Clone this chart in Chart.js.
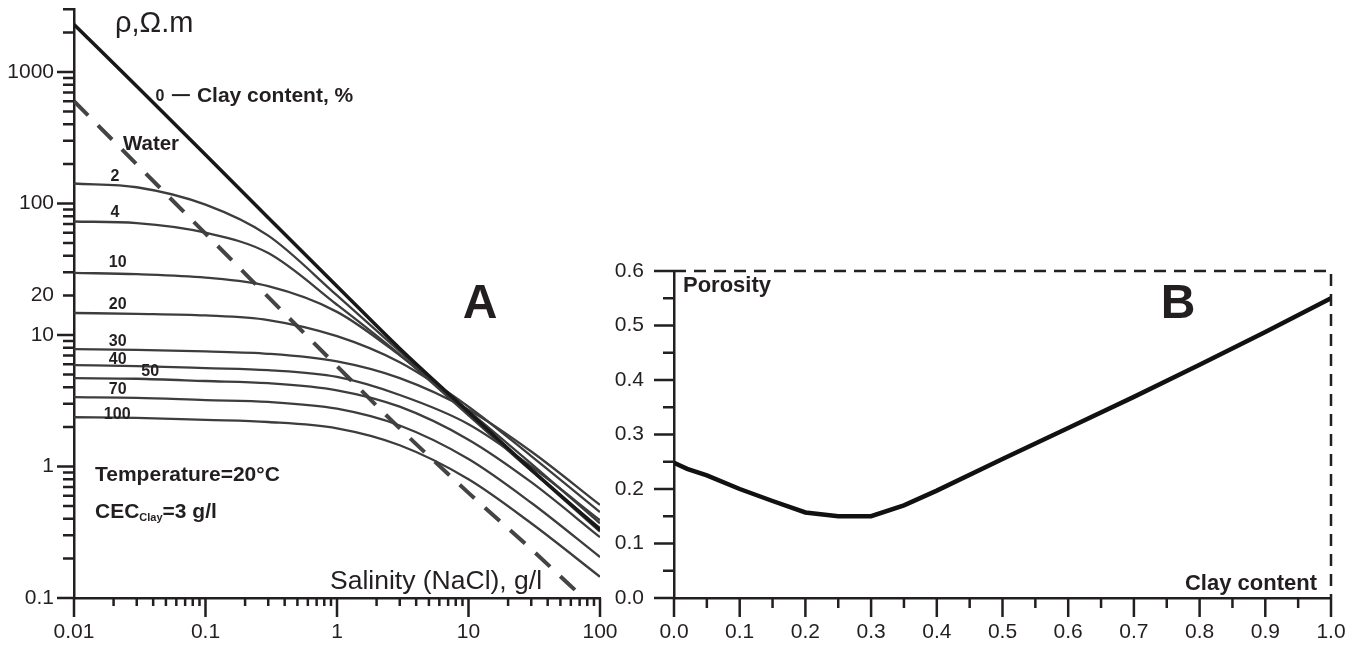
<!DOCTYPE html>
<html>
<head>
<meta charset="utf-8">
<title>Resistivity vs salinity and porosity vs clay content</title>
<script src="https://cdn.jsdelivr.net/npm/chart.js@4.4.0/dist/chart.umd.min.js"></script>
<style>
  html, body { margin: 0; padding: 0; background: #fff; overflow: hidden; }
  #wrap { position: relative; width: 1360px; height: 645px; }
  canvas { position: absolute; top: 0; }
  #chartA { left: 0; }
  #chartB { left: 560px; }
</style>
</head>
<body>
<div id="wrap">
  <canvas id="chartA" width="680" height="645"></canvas>
  <canvas id="chartB" width="800" height="645"></canvas>
</div>
<script>
// ---- chart A : resistivity (ohm.m) vs NaCl salinity (g/l), one curve per clay content ----
const salinity   = [0.01, 0.03, 0.1, 0.3, 1, 3, 10, 30, 100];
const rhoClay0   = [2300, 780, 235, 78, 23.5, 7.9, 2.6, 0.95, 0.33];
const rhoClay2   = [142, 133, 98, 57, 20, 7.5, 2.5, 0.93, 0.32];
const rhoClay4   = [73, 71, 60, 42, 17, 7.1, 2.45, 0.93, 0.34];
const rhoClay10  = [29.7, 29, 27.3, 23.5, 15, 7.0, 2.65, 1.05, 0.37];
const rhoClay20  = [14.7, 14.5, 14.1, 13, 9.8, 6.2, 2.85, 1.2, 0.45];
const rhoClay30  = [7.8, 7.7, 7.5, 7.2, 6.3, 4.7, 2.7, 1.3, 0.51];
const rhoClay40  = [5.9, 5.8, 5.6, 5.4, 4.8, 3.5, 2.1, 1.0, 0.39];
const rhoClay50  = [4.7, 4.65, 4.47, 4.3, 3.8, 2.85, 1.6, 0.76, 0.29];
const rhoClay70  = [3.37, 3.33, 3.2, 3.1, 2.75, 2.05, 1.14, 0.53, 0.205];
const rhoClay100 = [2.37, 2.34, 2.26, 2.18, 1.95, 1.45, 0.8, 0.37, 0.145];

const waterSalinity = [0.01, 0.1, 1, 3, 10, 30, 75];
const rhoWater      = [600, 59, 5.8, 1.95, 0.63, 0.235, 0.1];

const salinityTicks      = [0.01, 0.1, 1, 10, 100];
const salinityTickLabels = ['0.01', '0.1', '1', '10', '100'];
const rhoTicks           = [0.1, 1, 10, 20, 100, 1000];
const rhoTickLabels      = ['0.1', '1', '10', '20', '100', '1000'];

// curve labels (clay content %) and where they sit, in data units
const clayLabels   = ['2', '4', '10', '20', '30', '40', '50', '70', '100'];
const clayLabelSal = [0.0205, 0.0205, 0.0215, 0.0215, 0.0215, 0.0215, 0.038, 0.0215, 0.0213];
const clayLabelRho = [159, 85, 35.3, 16.9, 8.85, 6.46, 5.24, 3.82, 2.5];

// ---- chart B : porosity vs clay content ----
const clayContent = [0, 0.02, 0.05, 0.1, 0.15, 0.2, 0.25, 0.3, 0.35, 0.4, 0.5, 0.6, 0.7, 0.8, 0.9, 1.0];
const porosity    = [0.248, 0.237, 0.225, 0.2, 0.178, 0.157, 0.15, 0.15, 0.17, 0.197, 0.255, 0.312, 0.369, 0.428, 0.488, 0.55];

const clayTicks      = [0, 0.1, 0.2, 0.3, 0.4, 0.5, 0.6, 0.7, 0.8, 0.9, 1.0];
const clayTickLabels = ['0.0', '0.1', '0.2', '0.3', '0.4', '0.5', '0.6', '0.7', '0.8', '0.9', '1.0'];
const porTicks       = [0, 0.1, 0.2, 0.3, 0.4, 0.5, 0.6];
const porTickLabels  = ['0.0', '0.1', '0.2', '0.3', '0.4', '0.5', '0.6'];

// ---- styles ----
const ink = '#231f20';
const curveColor = '#3d3d3d';
const fam = '"Liberation Sans", Arial, Helvetica, sans-serif';
const tickFont = { family: fam, size: 21 };

const pts = (xs, ys) => xs.map((x, i) => ({ x, y: ys[i] }));

function fixedAxis(size) {
  return function (s) {
    if (s.isHorizontal()) s.height = size; else s.width = size;
    s.paddingTop = 0; s.paddingBottom = 0; s.paddingLeft = 0; s.paddingRight = 0;
  };
}

function drawTicks(ctx, scale, values, len) {
  ctx.save();
  ctx.strokeStyle = ink;
  ctx.lineWidth = 2.5;
  ctx.beginPath();
  values.forEach(v => {
    const p = scale.getPixelForValue(v);
    if (scale.isHorizontal()) { ctx.moveTo(p, scale.top); ctx.lineTo(p, scale.top + len); }
    else { ctx.moveTo(scale.right, p); ctx.lineTo(scale.right - len, p); }
  });
  ctx.stroke();
  ctx.restore();
}

function text(ctx, s, x, y, font, align) {
  ctx.font = font;
  ctx.textAlign = align || 'left';
  ctx.textBaseline = 'middle';
  ctx.fillStyle = ink;
  ctx.fillText(s, x, y);
}

function logMinors(decades, max) {
  const out = [];
  decades.forEach(d => { for (let m = 2; m <= 9; m++) if (m * d <= max * 1.0001) out.push(m * d); });
  return out;
}

const curve = (label, ys, width, color) => ({
  label, data: pts(salinity, ys),
  borderColor: color || curveColor, borderWidth: width || 2.3,
  pointRadius: 0, fill: false, cubicInterpolationMode: 'monotone'
});

// ---- chart A ----
const decorA = {
  id: 'decorA',
  afterDraw(chart) {
    const { ctx, chartArea: a, scales: { x, y } } = chart;
    drawTicks(ctx, x, salinityTicks, 19);
    drawTicks(ctx, x, logMinors([0.01, 0.1, 1, 10], 100), 8);
    drawTicks(ctx, y, [0.1, 1, 10, 100, 1000], 17);
    drawTicks(ctx, y, logMinors([0.1, 1, 10, 100, 1000], 3000), 11);

    ctx.save();
    text(ctx, 'ρ,Ω.m', a.left + 41, a.top + 15, `29px ${fam}`);
    text(ctx, 'Salinity (NaCl), g/l', a.left + 256, a.bottom - 16, `26.5px ${fam}`);
    text(ctx, 'A', a.left + 406, 305, `bold 48px ${fam}`, 'center');

    // legend for the solid curves
    const lx = x.getPixelForValue(0.045), ly = y.getPixelForValue(656);
    text(ctx, '0', lx, ly, `bold 16px ${fam}`, 'center');
    ctx.strokeStyle = ink; ctx.lineWidth = 2;
    ctx.beginPath(); ctx.moveTo(lx + 12, ly - 1); ctx.lineTo(lx + 30, ly - 1); ctx.stroke();
    text(ctx, 'Clay content, %', lx + 37, ly, `bold 21px ${fam}`);

    text(ctx, 'Water', x.getPixelForValue(0.0385), y.getPixelForValue(283), `bold 20.5px ${fam}`, 'center');

    clayLabels.forEach((s, i) => {
      text(ctx, s, x.getPixelForValue(clayLabelSal[i]), y.getPixelForValue(clayLabelRho[i]), `bold 16px ${fam}`, 'center');
    });

    text(ctx, 'Temperature=20°C', a.left + 21, 475, `bold 21px ${fam}`);
    text(ctx, 'CEC', a.left + 21, 512, `bold 21px ${fam}`);
    ctx.font = `bold 21px ${fam}`;
    const w1 = ctx.measureText('CEC').width;
    text(ctx, 'Clay', a.left + 21 + w1, 518, `bold 11px ${fam}`);
    ctx.font = `bold 11px ${fam}`;
    const w2 = ctx.measureText('Clay').width;
    text(ctx, '=3 g/l', a.left + 21 + w1 + w2, 512, `bold 21px ${fam}`);
    ctx.restore();
  }
};

new Chart(document.getElementById('chartA'), {
  type: 'line',
  data: {
    datasets: [
      curve('0 %', rhoClay0, 3.5, '#1a1718'),
      curve('2 %', rhoClay2),
      curve('4 %', rhoClay4),
      curve('10 %', rhoClay10),
      curve('20 %', rhoClay20),
      curve('30 %', rhoClay30),
      curve('40 %', rhoClay40),
      curve('50 %', rhoClay50),
      curve('70 %', rhoClay70),
      curve('100 %', rhoClay100),
      {
        label: 'Water', data: pts(waterSalinity, rhoWater),
        borderColor: '#444', borderWidth: 4, borderDash: [20, 14],
        pointRadius: 0, fill: false, cubicInterpolationMode: 'monotone'
      }
    ]
  },
  options: {
    responsive: false, animation: false, devicePixelRatio: 1,
    layout: { padding: { left: 0, right: 80, top: 9.3, bottom: 0 } },
    plugins: { legend: { display: false }, tooltip: { enabled: false } },
    scales: {
      x: {
        type: 'logarithmic', min: 0.01, max: 100,
        grid: { display: false },
        border: { display: true, color: ink, width: 2.5 },
        ticks: { color: ink, font: tickFont, padding: 14, autoSkip: false, maxRotation: 0,
                 callback: (v, i) => salinityTickLabels[i] },
        afterBuildTicks: s => { s.ticks = salinityTicks.map(v => ({ value: v })); },
        afterFit: fixedAxis(47)
      },
      y: {
        type: 'logarithmic', min: 0.1, max: 3000,
        grid: { display: false },
        border: { display: true, color: ink, width: 2.5 },
        ticks: { color: ink, font: tickFont, padding: 12, autoSkip: false,
                 callback: (v, i) => rhoTickLabels[i] },
        afterBuildTicks: s => { s.ticks = rhoTicks.map(v => ({ value: v })); },
        afterFit: fixedAxis(74)
      }
    }
  },
  plugins: [decorA]
});

// ---- chart B ----
const decorB = {
  id: 'decorB',
  afterDraw(chart) {
    const { ctx, chartArea: a, scales: { x, y } } = chart;
    drawTicks(ctx, x, clayTicks, 19);
    drawTicks(ctx, x, clayTicks.slice(0, -1).map(v => v + 0.05), 10);
    drawTicks(ctx, y, porTicks, 20);
    drawTicks(ctx, y, porTicks.slice(0, -1).map(v => v + 0.05), 11);

    ctx.save();
    ctx.strokeStyle = ink; ctx.lineWidth = 2.5;
    ctx.setLineDash([12, 8]);
    ctx.beginPath();
    ctx.moveTo(a.left, a.top); ctx.lineTo(a.right, a.top); ctx.lineTo(a.right, a.bottom);
    ctx.stroke();
    ctx.setLineDash([]);

    text(ctx, 'Porosity', a.left + 9, a.top + 15, `bold 22px ${fam}`);
    text(ctx, 'B', a.right - 153, 305, `bold 48px ${fam}`, 'center');
    text(ctx, 'Clay content', a.right - 14, a.bottom - 14, `bold 22px ${fam}`, 'right');
    ctx.restore();
  }
};

new Chart(document.getElementById('chartB'), {
  type: 'line',
  data: {
    datasets: [{
      label: 'Porosity', data: pts(clayContent, porosity),
      borderColor: '#111', borderWidth: 4.5, pointRadius: 0, fill: false, tension: 0
    }]
  },
  options: {
    responsive: false, animation: false, devicePixelRatio: 1,
    layout: { padding: { left: 0, right: 29, top: 271, bottom: 0 } },
    plugins: { legend: { display: false }, tooltip: { enabled: false } },
    scales: {
      x: {
        type: 'linear', min: 0, max: 1,
        grid: { display: false },
        border: { display: true, color: ink, width: 2.5 },
        ticks: { color: ink, font: tickFont, padding: 14, autoSkip: false, maxRotation: 0,
                 callback: (v, i) => clayTickLabels[i] },
        afterBuildTicks: s => { s.ticks = clayTicks.map(v => ({ value: v })); },
        afterFit: fixedAxis(47)
      },
      y: {
        type: 'linear', min: 0, max: 0.6,
        grid: { display: false },
        border: { display: true, color: ink, width: 2.5 },
        ticks: { color: ink, font: tickFont, padding: 22, autoSkip: false,
                 callback: (v, i) => porTickLabels[i] },
        afterBuildTicks: s => { s.ticks = porTicks.map(v => ({ value: v })); },
        afterFit: fixedAxis(114)
      }
    }
  },
  plugins: [decorB]
});
</script>
</body>
</html>
